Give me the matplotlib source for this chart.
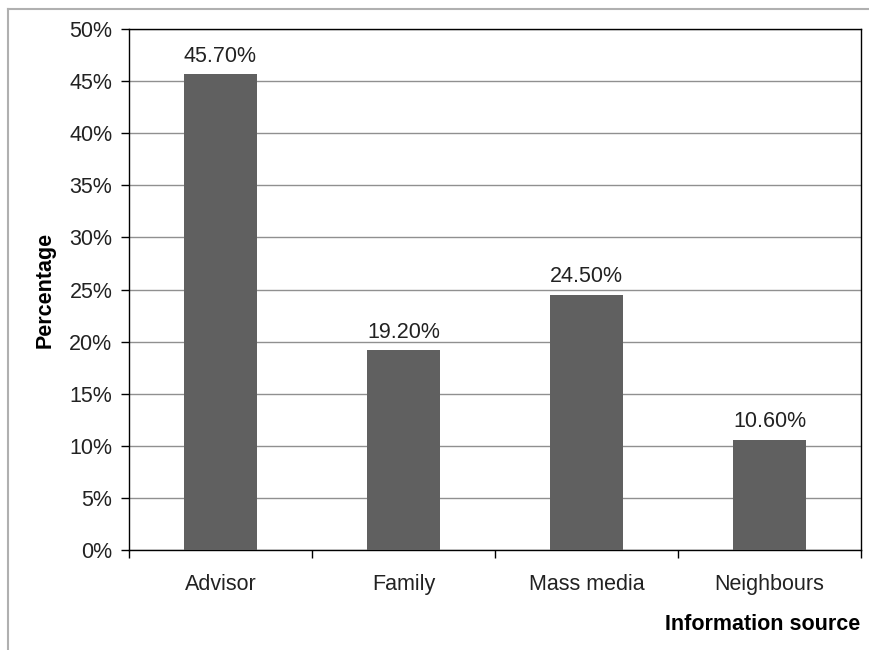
import matplotlib
matplotlib.use("Agg")
import matplotlib.pyplot as plt
from matplotlib.lines import Line2D

categories = ["Advisor", "Family", "Mass media", "Neighbours"]
values = [45.7, 19.2, 24.5, 10.6]
value_labels = ["45.70%", "19.20%", "24.50%", "10.60%"]
yticks = [0, 5, 10, 15, 20, 25, 30, 35, 40, 45, 50]

FS = 15.5


def main():
    plt.rcParams['font.family'] = ['Liberation Sans', 'DejaVu Sans']
    fig = plt.figure(figsize=(8.69, 6.5), dpi=100)
    ax = fig.add_axes([0.1484, 0.1538, 0.8424, 0.8015])

    x = list(range(len(categories)))
    ax.bar(x, values, width=0.4, color='#606060', zorder=3)
    for xi, v, lab in zip(x, values, value_labels):
        ax.text(xi, v + 0.7, lab, ha='center', va='bottom', fontsize=FS, color='#222222')

    ax.set_xlim(-0.5, len(categories) - 0.5)
    ax.set_ylim(0, 50)
    ax.set_yticks(yticks)
    ax.set_yticklabels([f"{t}%" for t in yticks], fontsize=FS, color='#222222')
    ax.yaxis.grid(True, color='#909090', linewidth=1, zorder=0)

    ax.set_xticks(x)
    ax.set_xticklabels(categories, fontsize=FS, color='#222222')
    ax.tick_params(axis='x', length=0, pad=17)
    ax.set_xticks([i - 0.5 for i in range(len(categories) + 1)], minor=True)
    ax.tick_params(axis='x', which='minor', length=6, width=1, color='black')
    ax.tick_params(axis='y', length=6, width=1, color='black', pad=6)

    for s in ax.spines.values():
        s.set_color('black')
        s.set_linewidth(1)

    ax.set_ylabel("Percentage", fontsize=FS, fontweight='bold', labelpad=10)
    fig.text(0.99, 0.04, "Information source", ha='right', va='center',
             fontsize=FS, fontweight='bold')

    # outer border of the chart area
    fig.add_artist(Line2D([0.0092, 0.0092], [0, 0.986], color='#b0b0b0', linewidth=1.5))
    fig.add_artist(Line2D([0.0092, 1], [0.986, 0.986], color='#b0b0b0', linewidth=1.5))

    fig.savefig("out.png", dpi=100, facecolor='white')


if __name__ == "__main__":
    main()
